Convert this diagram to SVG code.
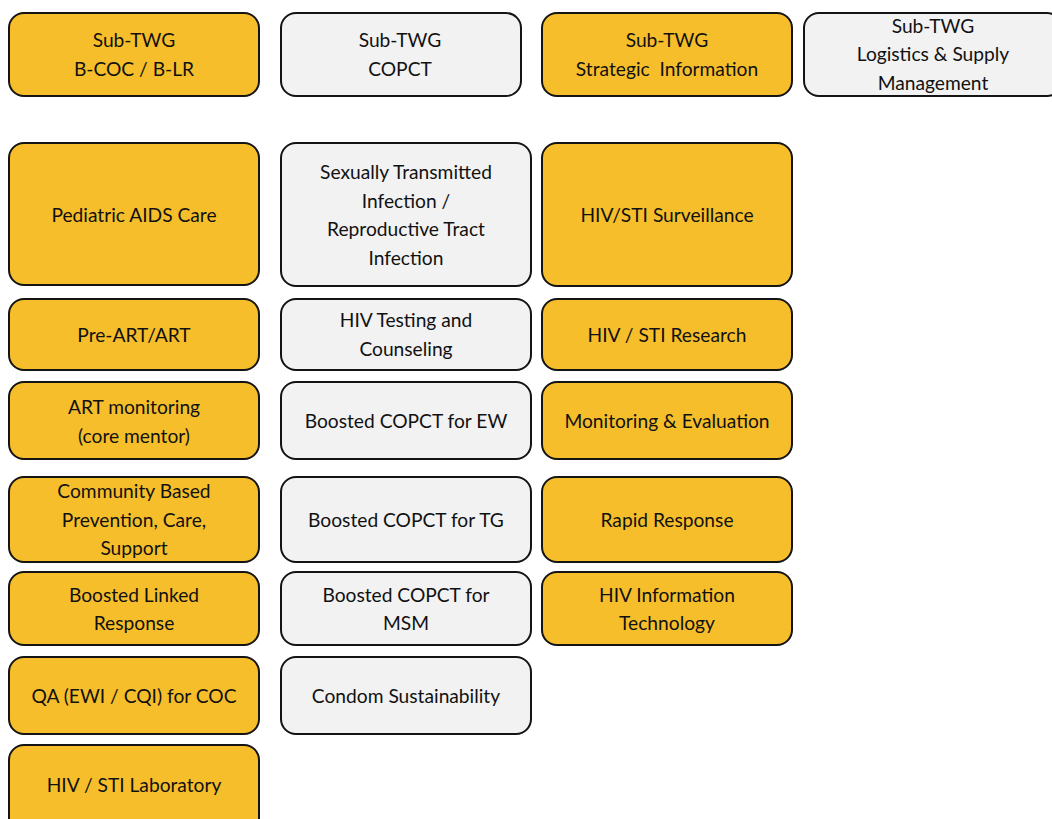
<svg xmlns="http://www.w3.org/2000/svg" width="1052" height="819" viewBox="0 0 1052 819">
  <style>
    .box { stroke: #141414; stroke-width: 2; }
    .y { fill: #F6BE2B; }
    .g { fill: #F2F2F2; }
    text { font-family: Lato, "Open Sans", "Liberation Sans", sans-serif; font-size: 19.2px; fill: #111; text-anchor: middle; dominant-baseline: central; white-space: pre; }
  </style>
  <rect width="1052" height="819" fill="#ffffff"/>

  <!-- Sub-TWG headers -->
  <g id="subtwg-bcoc">
    <rect class="box y" x="9" y="13" width="250" height="83" rx="15"/>
    <text x="134" y="39">Sub-TWG</text>
    <text x="134" y="68">B-COC / B-LR</text>
  </g>
  <g id="subtwg-copct">
    <rect class="box g" x="281" y="13" width="240" height="83" rx="15"/>
    <text x="400" y="39">Sub-TWG</text>
    <text x="400" y="68">COPCT</text>
  </g>
  <g id="subtwg-si">
    <rect class="box y" x="542" y="13" width="250" height="83" rx="15"/>
    <text x="667" y="39">Sub-TWG</text>
    <text x="667" y="68" xml:space="preserve">Strategic  Information</text>
  </g>
  <g id="subtwg-lsm">
    <rect class="box g" x="804" y="13" width="258" height="83" rx="15"/>
    <text x="933" y="25">Sub-TWG</text>
    <text x="933" y="53">Logistics &amp; Supply</text>
    <text x="933" y="82">Management</text>
  </g>

  <!-- B-COC / B-LR column -->
  <g id="pediatric-aids-care">
    <rect class="box y" x="9" y="143" width="250" height="142" rx="15"/>
    <text x="134" y="214">Pediatric AIDS Care</text>
  </g>
  <g id="pre-art">
    <rect class="box y" x="9" y="299" width="250" height="71" rx="15"/>
    <text x="134" y="334">Pre-ART/ART</text>
  </g>
  <g id="art-monitoring">
    <rect class="box y" x="9" y="382" width="250" height="77" rx="15"/>
    <text x="134" y="406">ART monitoring</text>
    <text x="134" y="435">(core mentor)</text>
  </g>
  <g id="community-based">
    <rect class="box y" x="9" y="477" width="250" height="85" rx="15"/>
    <text x="134" y="490">Community Based</text>
    <text x="134" y="519">Prevention, Care,</text>
    <text x="134" y="547">Support</text>
  </g>
  <g id="boosted-linked">
    <rect class="box y" x="9" y="572" width="250" height="73" rx="15"/>
    <text x="134" y="594">Boosted Linked</text>
    <text x="134" y="622">Response</text>
  </g>
  <g id="qa-coc">
    <rect class="box y" x="9" y="657" width="250" height="77" rx="15"/>
    <text x="134" y="695">QA (EWI / CQI) for COC</text>
  </g>
  <g id="laboratory">
    <rect class="box y" x="9" y="745" width="250" height="90" rx="15"/>
    <text x="134" y="784">HIV / STI Laboratory</text>
  </g>

  <!-- COPCT column -->
  <g id="sti-rti">
    <rect class="box g" x="281" y="143" width="250" height="143" rx="15"/>
    <text x="406" y="171">Sexually Transmitted</text>
    <text x="406" y="200">Infection /</text>
    <text x="406" y="228">Reproductive Tract</text>
    <text x="406" y="257">Infection</text>
  </g>
  <g id="hiv-testing">
    <rect class="box g" x="281" y="299" width="250" height="71" rx="15"/>
    <text x="406" y="319">HIV Testing and</text>
    <text x="406" y="348">Counseling</text>
  </g>
  <g id="copct-ew">
    <rect class="box g" x="281" y="382" width="250" height="77" rx="15"/>
    <text x="406" y="420">Boosted COPCT for EW</text>
  </g>
  <g id="copct-tg">
    <rect class="box g" x="281" y="477" width="250" height="85" rx="15"/>
    <text x="406" y="519">Boosted COPCT for TG</text>
  </g>
  <g id="copct-msm">
    <rect class="box g" x="281" y="572" width="250" height="73" rx="15"/>
    <text x="406" y="594">Boosted COPCT for</text>
    <text x="406" y="622">MSM</text>
  </g>
  <g id="condom">
    <rect class="box g" x="281" y="657" width="250" height="77" rx="15"/>
    <text x="406" y="695">Condom Sustainability</text>
  </g>

  <!-- Strategic Information column -->
  <g id="surveillance">
    <rect class="box y" x="542" y="143" width="250" height="143" rx="15"/>
    <text x="667" y="214">HIV/STI Surveillance</text>
  </g>
  <g id="research">
    <rect class="box y" x="542" y="299" width="250" height="71" rx="15"/>
    <text x="667" y="334">HIV / STI Research</text>
  </g>
  <g id="m-and-e">
    <rect class="box y" x="542" y="382" width="250" height="77" rx="15"/>
    <text x="667" y="420">Monitoring &amp; Evaluation</text>
  </g>
  <g id="rapid-response">
    <rect class="box y" x="542" y="477" width="250" height="85" rx="15"/>
    <text x="667" y="519">Rapid Response</text>
  </g>
  <g id="info-tech">
    <rect class="box y" x="542" y="572" width="250" height="73" rx="15"/>
    <text x="667" y="594">HIV Information</text>
    <text x="667" y="622">Technology</text>
  </g>

  <g id="connectors"/>
</svg>
